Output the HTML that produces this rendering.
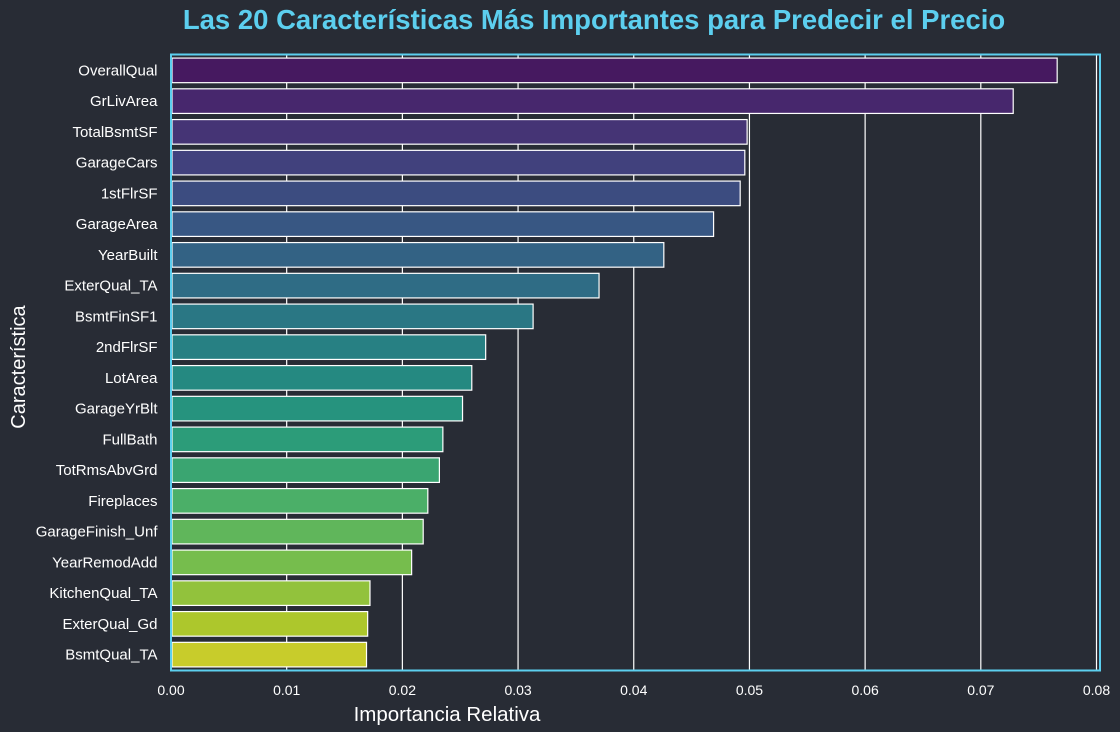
<!DOCTYPE html>
<html><head><meta charset="utf-8"><style>
html,body{margin:0;padding:0;background:#282c35;}
svg{display:block;font-family:"Liberation Sans",Arial,sans-serif;}
</style></head><body>
<svg id="chart" width="1120" height="732" viewBox="0 0 1120 732">
<rect x="0" y="0" width="1120" height="732" fill="#282c35"/>
<text x="594" y="29" text-anchor="middle" font-size="27.5" font-weight="bold" fill="#5ccfef">Las 20 Características Más Importantes para Predecir el Precio</text>
<g id="grid"></g>
<g id="bars"></g>
<g id="ylabels"></g>
<g id="xlabels"></g>
<rect x="171" y="54.5" width="929" height="616" fill="none" stroke="#5ccfef" stroke-width="2"/>
<text x="447" y="721" text-anchor="middle" font-size="20.5" fill="#ffffff">Importancia Relativa</text>
<text transform="translate(25,367) rotate(-90)" text-anchor="middle" font-size="20" fill="#ffffff">Característica</text>
</svg>
<script>
const features = ["OverallQual","GrLivArea","TotalBsmtSF","GarageCars","1stFlrSF","GarageArea","YearBuilt","ExterQual_TA","BsmtFinSF1","2ndFlrSF","LotArea","GarageYrBlt","FullBath","TotRmsAbvGrd","Fireplaces","GarageFinish_Unf","YearRemodAdd","KitchenQual_TA","ExterQual_Gd","BsmtQual_TA"];
const importance = [0.0766,0.0728,0.0498,0.0496,0.0492,0.0469,0.0426,0.0370,0.0313,0.0272,0.0260,0.0252,0.0235,0.0232,0.0222,0.0218,0.0208,0.0172,0.0170,0.0169];
const xTicks = [0,0.01,0.02,0.03,0.04,0.05,0.06,0.07,0.08];
const xTickLabels = ["0.00","0.01","0.02","0.03","0.04","0.05","0.06","0.07","0.08"];

const NS="http://www.w3.org/2000/svg";
const X0=171, X1=1096.5, XMAX=0.08, TOP=55, BOT=670;
function xs(v){return X0+(v/XMAX)*(X1-X0);}
const band=(BOT-TOP)/features.length;
function yc(i){return TOP+band*(i+0.5);}
const vir=[[68,1,84],[72,35,116],[64,67,135],[52,94,141],[41,120,142],[32,144,140],[34,167,132],[68,190,112],[121,209,81],[189,222,38],[253,231,37]];
function viridis(t){const p=t*(vir.length-1);const i=Math.min(Math.floor(p),vir.length-2);const f=p-i;
 return vir[i].map((c,k)=>Math.round(c+(vir[i+1][k]-c)*f));}
const bg=[40,44,53];
function mk(tag,attrs,parent){const e=document.createElementNS(NS,tag);for(const k in attrs)e.setAttribute(k,attrs[k]);parent.appendChild(e);return e;}
const grid=document.getElementById('grid'),bars=document.getElementById('bars'),yl=document.getElementById('ylabels'),xl=document.getElementById('xlabels');
xTicks.forEach((t,i)=>{
 const l=mk('line',{x1:xs(t),x2:xs(t),y1:TOP,y2:BOT,stroke:'#ffffff','stroke-width':1.2},grid);
 
 
 const tx=mk('text',{x:xs(t),y:695,'text-anchor':'middle','font-size':14,fill:'#ffffff'},xl);
 tx.textContent=xTickLabels[i];
 
 
});
const n=features.length;
features.forEach((f,i)=>{
 const c=viridis((i+1)/(n+1)).map((v,k)=>Math.round(v*0.85+bg[k]*0.15+4));
 const h=band*0.8;
 const r=mk('rect',{x:X0+1,y:yc(i)-h/2,width:xs(importance[i])-X0-1,height:h,fill:`rgb(${c})`,stroke:'#ffffff','stroke-width':1.2},bars);
 
 
 const t=mk('text',{x:157.5,y:yc(i)+5,'text-anchor':'end','font-size':15,fill:'#ffffff'},yl);
 t.textContent=f;
 
 
});
</script>
</body></html>
